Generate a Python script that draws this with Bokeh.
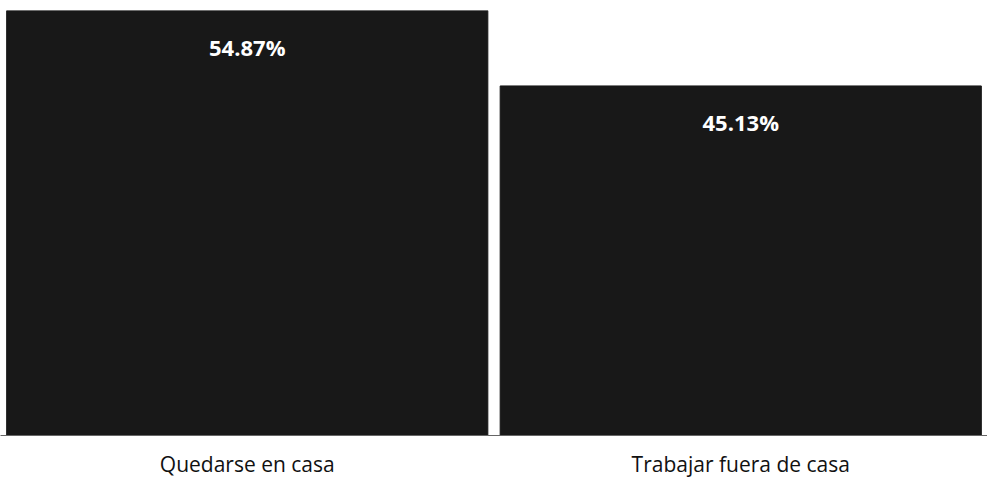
from bokeh.plotting import figure
from bokeh.models import ColumnDataSource, FactorRange, Range1d
from bokeh.core.properties import value
from bokeh.embed import file_html
from bokeh.resources import INLINE

categories = ["Quedarse en casa", "Trabajar fuera de casa"]
percentages = [54.87, 45.13]
labels = ["54.87%", "45.13%"]

src = ColumnDataSource(dict(cat=categories, val=percentages, lab=labels))

p = figure(width=987, height=480, output_backend="svg", toolbar_location=None,
           x_range=FactorRange(*categories, range_padding=0),
           y_range=Range1d(0, max(percentages)),
           min_border_left=0, min_border_right=0, min_border_top=10, min_border_bottom=40)

p.vbar(x="cat", top="val", bottom=0, width=0.975, source=src,
       fill_color="#181818", line_color="#181818")

p.text(x="cat", y="val", text="lab", source=src, y_offset=36,
       text_align="center", text_baseline="middle", text_color="white",
       text_font=value("Open Sans"), text_font_style="bold", text_font_size="22px")

p.yaxis.visible = False
p.xgrid.visible = False
p.ygrid.visible = False
p.outline_line_color = None
p.xaxis.axis_line_color = "#666666"
p.xaxis.axis_line_width = 1
p.xaxis.major_tick_line_color = None
p.xaxis.minor_tick_line_color = None
p.xaxis.major_label_standoff = 8
p.xaxis.major_label_text_font = "Open Sans"
p.xaxis.major_label_text_font_size = "21px"
p.xaxis.major_label_text_color = "#111111"
p.background_fill_color = "white"
p.border_fill_color = "white"

open("out.html", "w").write(file_html(p, INLINE))
